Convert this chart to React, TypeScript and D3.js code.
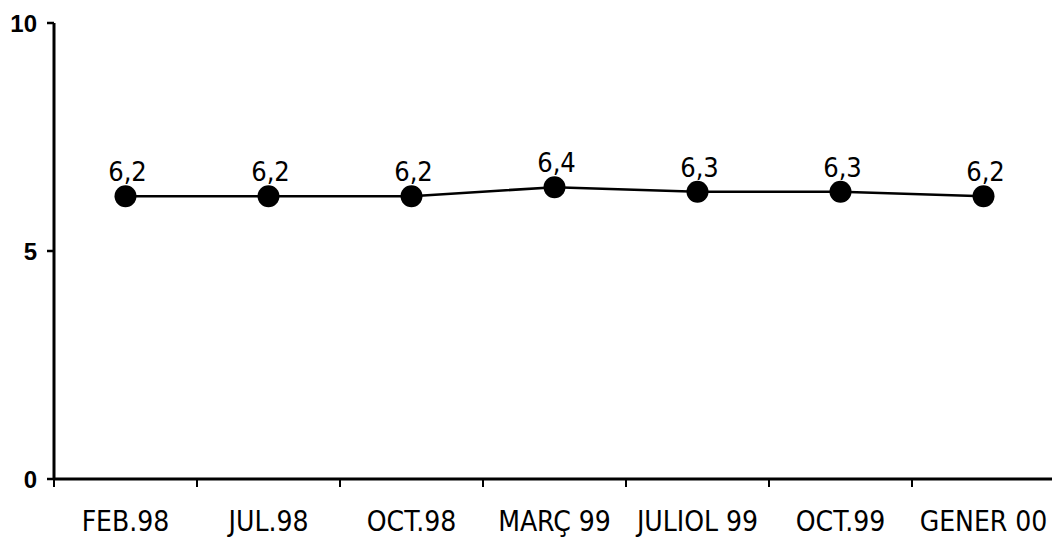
import React from "react";
import * as d3 from "d3";

const categories = ["FEB.98", "JUL.98", "OCT.98", "MARÇ 99", "JULIOL 99", "OCT.99", "GENER 00"];
const values = [6.2, 6.2, 6.2, 6.4, 6.3, 6.3, 6.2];
const yTicks = [0, 5, 10];

const W = 1052;
const H = 542;
const left = 54;
const right = 1055;
const top = 23;
const bottom = 479;

export default function App() {
  const x = d3.scaleBand<string>().domain(categories).range([left, right]);
  const y = d3.scaleLinear().domain([0, 10]).range([bottom, top]);
  const line = d3
    .line<number>()
    .x((_, i) => (x(categories[i]) as number) + x.bandwidth() / 2)
    .y((d) => y(d));
  const fmt = (v: number) => d3.format(".1f")(v).replace(".", ",");
  const catFont = "'DejaVu Sans Condensed', 'DejaVu Sans', sans-serif";

  return (
    <svg
      width={W}
      height={H}
      style={{ position: "absolute", left: 0, top: 0, background: "#fff" }}
    >
      {/* y axis */}
      <line x1={left} x2={left} y1={y(10)} y2={y(0)} stroke="#000" strokeWidth={3} />
      {yTicks.map((t) => (
        <g key={t}>
          <line x1={left - 7} x2={left} y1={y(t)} y2={y(t)} stroke="#000" strokeWidth={2.5} />
          <text
            x={37}
            y={y(t)}
            dy="0.36em"
            textAnchor="end"
            fontFamily="'Liberation Sans', Arial, sans-serif"
            fontWeight="bold"
            fontSize={24}
            fill="#000"
          >
            {t}
          </text>
        </g>
      ))}
      {/* x axis */}
      <line x1={left} x2={right} y1={y(0)} y2={y(0)} stroke="#000" strokeWidth={3} />
      {categories.map((c, i) => (
        <line
          key={"t" + i}
          x1={(x(c) as number)}
          x2={(x(c) as number)}
          y1={y(0)}
          y2={y(0) + 8}
          stroke="#000"
          strokeWidth={2}
        />
      ))}
      {categories.map((c) => (
        <text
          key={c}
          x={(x(c) as number) + x.bandwidth() / 2}
          y={531}
          textAnchor="middle"
          fontFamily={catFont}
          fontSize={28}
          fill="#000"
          style={{ fontStretch: "condensed" }}
        >
          {c}
        </text>
      ))}
      {/* line */}
      <path d={line(values) || ""} fill="none" stroke="#000" strokeWidth={2.5} />
      {values.map((v, i) => {
        const cx = (x(categories[i]) as number) + x.bandwidth() / 2;
        return (
          <g key={"p" + i}>
            <circle cx={cx} cy={y(v)} r={11} fill="#000" />
            <text
              x={cx + 2}
              y={y(v) - 15}
              textAnchor="middle"
              fontFamily={catFont}
              fontSize={27}
              fill="#000"
              style={{ fontStretch: "condensed" }}
            >
              {fmt(v)}
            </text>
          </g>
        );
      })}
    </svg>
  );
}
